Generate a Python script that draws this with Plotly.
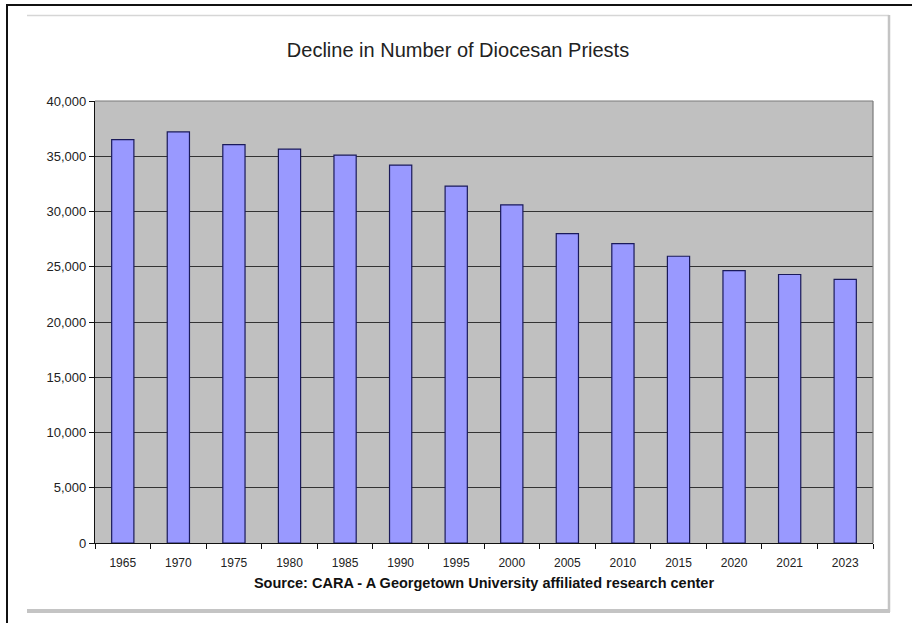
import plotly.graph_objects as go

years = ["1965", "1970", "1975", "1980", "1985", "1990", "1995", "2000",
         "2005", "2010", "2015", "2020", "2021", "2023"]
priests = [36500, 37200, 36050, 35650, 35100, 34200, 32300, 30600,
           28000, 27100, 25950, 24650, 24300, 23850]
y_ticks = [0, 5000, 10000, 15000, 20000, 25000, 30000, 35000, 40000]
title_text = "Decline in Number of Diocesan Priests"
source_text = "Source: CARA - A Georgetown University affiliated research center"

W, H = 912, 623
L, R, T, B = 95, 873, 101, 543


def px(x):
    return (x - L) / (R - L)


def py(y):
    return (B - y) / (B - T)


fig = go.Figure(go.Bar(
    x=years, y=priests,
    marker=dict(color="#9999ff", line=dict(color="#1a1a5a", width=1.2)),
    width=0.4,
))

shapes = [
    # outer black border (top and left)
    dict(type="line", xref="paper", yref="paper", x0=px(6), x1=px(915), y0=py(5), y1=py(5),
         line=dict(color="#111111", width=2)),
    dict(type="line", xref="paper", yref="paper", x0=px(7), x1=px(7), y0=py(4), y1=py(626),
         line=dict(color="#111111", width=2)),
    # inner light frame
    dict(type="line", xref="paper", yref="paper", x0=px(27), x1=px(889), y0=py(15.5), y1=py(15.5),
         line=dict(color="#d6d6d6", width=1.5)),
    dict(type="line", xref="paper", yref="paper", x0=px(889), x1=px(889), y0=py(15), y1=py(612),
         line=dict(color="#c4c4c4", width=2.5)),
    dict(type="line", xref="paper", yref="paper", x0=px(27), x1=px(890), y0=py(611), y1=py(611),
         line=dict(color="#c4c4c4", width=4)),
    # plot area border (top/right)
    dict(type="line", xref="paper", yref="paper", x0=0, x1=1, y0=1, y1=1,
         line=dict(color="#7a7a7a", width=1.2)),
    dict(type="line", xref="paper", yref="paper", x0=1, x1=1, y0=0, y1=1,
         line=dict(color="#7a7a7a", width=1.2)),
]

fig.update_layout(
    width=W, height=H,
    margin=dict(l=L, r=W - R, t=T, b=H - B),
    paper_bgcolor="white",
    plot_bgcolor="#c0c0c0",
    bargap=0.6,
    showlegend=False,
    font=dict(family="Liberation Sans, Arial, sans-serif", color="#222222", size=12),
    title=dict(text=title_text, x=px(458), xref="paper", xanchor="center",
               y=1 - 50 / H, yanchor="middle",
               font=dict(size=20, color="#222222")),
    shapes=shapes,
)

fig.update_xaxes(
    type="category",
    tickson="boundaries",
    ticks="outside", ticklen=5, tickcolor="#111111", tickwidth=1,
    ticklabelstandoff=8,
    showline=True, linecolor="#111111", linewidth=1.2,
    showgrid=False,
    tickfont=dict(size=12, color="#222222"),
    title=dict(text="<b>" + source_text + "</b>", font=dict(size=14.5, color="#111111"), standoff=9),
)
fig.update_yaxes(
    range=[0, 40000],
    tickvals=y_ticks, tickformat=",",
    ticks="outside", ticklen=5, tickcolor="#111111", tickwidth=1,
    showline=True, linecolor="#111111", linewidth=1.2,
    showgrid=True, gridcolor="#333333", gridwidth=1.3,
    zeroline=False,
    tickfont=dict(size=13, color="#222222"),
)

fig.write_html(
    "out.html",
    config={"displayModeBar": False},
    post_script="document.body.style.margin='0px';document.body.style.overflow='hidden';",
)
